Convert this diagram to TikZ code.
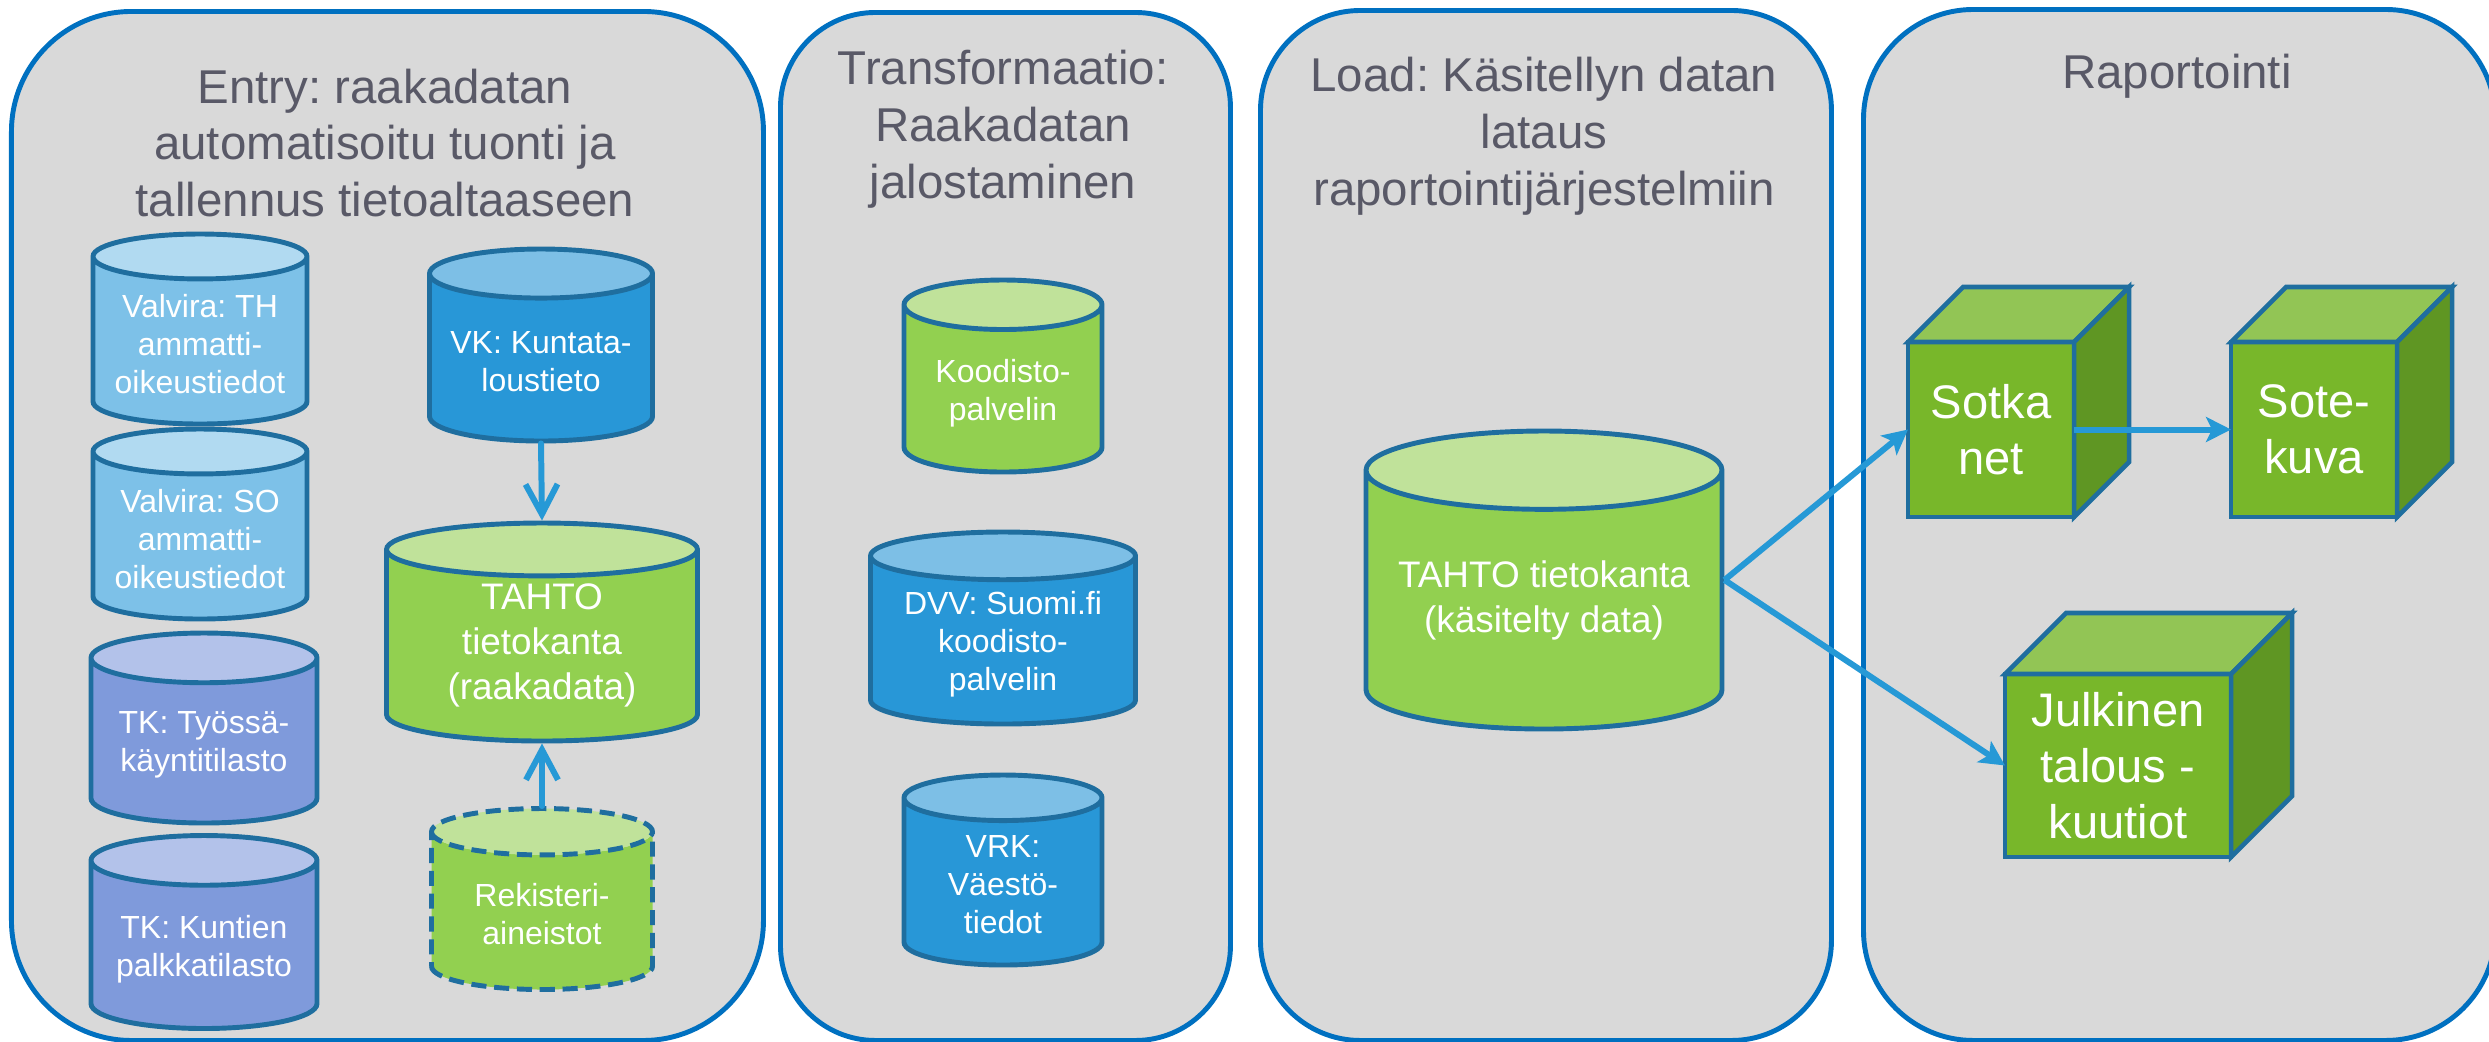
\documentclass[tikz,border=0pt]{standalone}
\usepackage{fontspec}
\setmainfont{Liberation Sans}
\frenchspacing
\usepackage{xcolor}
\usetikzlibrary{arrows.meta,shapes.geometric,calc}
\definecolor{frame}{HTML}{0070C0}
\definecolor{panelgray}{HTML}{D9D9D9}
\definecolor{titlegray}{HTML}{595967}
\definecolor{dbline}{HTML}{1F6E9F}
\definecolor{skybody}{HTML}{7DC1E8}
\definecolor{skytop}{HTML}{B1DAF1}
\definecolor{lilacbody}{HTML}{7F9ADB}
\definecolor{lilactop}{HTML}{B3C2EA}
\definecolor{seabody}{HTML}{2897D7}
\definecolor{seatop}{HTML}{7DBFE6}
\definecolor{leafbody}{HTML}{92D050}
\definecolor{leaftop}{HTML}{C0E29A}
\definecolor{cubefront}{HTML}{78B72A}
\definecolor{cubelid}{HTML}{92C555}
\definecolor{cubeside}{HTML}{5F9623}
\definecolor{arrowblue}{HTML}{2699D6}
\tikzset{
  >={Stealth[length=2.5mm,width=2.5mm,inset=0.6mm]},
  panel/.style={draw=frame,fill=panelgray,line width=1.4pt,rounded corners=1.1cm,anchor=north west,inner sep=0pt},
  paneltitle/.style={text=titlegray,font=\fontsize{13.5}{16.2}\selectfont,align=center},
  db/.style={cylinder,shape border rotate=90,draw=dbline,line width=1.4pt,cylinder uses custom fill,
    inner ysep=0pt,anchor=shape center},
  dbtext/.style={text=white,align=center,yshift=0.9mm,font=\fontsize{9.1}{10.8}\selectfont},
  bigdbtext/.style={dbtext,font=\fontsize{10.5}{12.8}\selectfont},
  skydb/.style={cylinder body fill=skybody,cylinder end fill=skytop},
  lilacdb/.style={cylinder body fill=lilacbody,cylinder end fill=lilactop},
  seadb/.style={cylinder body fill=seabody,cylinder end fill=seatop},
  leafdb/.style={cylinder body fill=leafbody,cylinder end fill=leaftop},
  cube/.style={draw=dbline,fill=cubefront,line width=1.3pt,text=white,align=center,inner sep=0pt,outer sep=0pt,
    font=\fontsize{13.4}{16}\selectfont},
  lid/.style={draw=dbline,fill=cubelid,line width=1.3pt},
  flank/.style={draw=dbline,fill=cubeside,line width=1.3pt},
  feed/.style={-{Straight Barb[length=3mm,width=3.2mm]},line width=1.7pt,color=arrowblue,line cap=round,line join=round},
  flow/.style={->,line width=1.7pt,color=arrowblue},
}
\begin{document}
\begin{tikzpicture}[x=1cm,y=1cm]
  \useasboundingbox (0,0) rectangle (24.89,-10.41);

  % the four stages
  \node[panel,rounded corners=1.2cm,minimum width=7.52cm,minimum height=10.29cm] (entryPanel) at (0.09,-0.09) {};
  \node[panel,rounded corners=0.95cm,minimum width=4.50cm,minimum height=10.28cm] (transPanel) at (7.78,-0.10) {};
  \node[panel,rounded corners=1.0cm,minimum width=5.71cm,minimum height=10.30cm] (loadPanel) at (12.58,-0.08) {};
  \node[panel,minimum width=6.32cm,minimum height=10.31cm] (reportPanel) at (18.61,-0.07) {};

  \node[paneltitle] (entryTitle) at (3.85,-1.43) {Entry: raakadatan\\automatisoitu tuonti ja\\tallennus tietoaltaaseen};
  \node[paneltitle] (transTitle) at (10.03,-1.29) {Transformaatio:\\Raakadatan\\jalostaminen};
  \node[paneltitle] (loadTitle) at (15.44,-1.36) {Load: Käsitellyn datan\\lataus\\raportointijärjestelmiin};
  \node[paneltitle] (reportTitle) at (21.77,-0.76) {Raportointi};

  % entry: sources
  \node[db,skydb,inner xsep=1.07cm,minimum height=1.90cm,aspect=0.21,
    label={[dbtext]center:{Valvira: TH\\ammatti-\\oikeustiedot}}] (valviraTH) at (2.00,-3.29) {};
  \node[db,skydb,inner xsep=1.07cm,minimum height=1.90cm,aspect=0.21,
    label={[dbtext]center:{Valvira: SO\\ammatti-\\oikeustiedot}}] (valviraSO) at (2.00,-5.24) {};
  \node[db,lilacdb,inner xsep=1.13cm,minimum height=1.90cm,aspect=0.22,
    label={[dbtext]center:{TK: Työssä-\\käyntitilasto}}] (tkTyo) at (2.04,-7.28) {};
  \node[db,lilacdb,inner xsep=1.13cm,minimum height=1.93cm,aspect=0.22,
    label={[dbtext]center:{TK: Kuntien\\palkkatilasto}}] (tkPalkka) at (2.04,-9.32) {};
  \node[db,seadb,inner xsep=1.115cm,minimum height=1.92cm,aspect=0.22,
    label={[dbtext]center:{VK: Kuntata-\\loustieto}}] (vkTalous) at (5.41,-3.45) {};
  \node[db,leafdb,inner xsep=1.555cm,minimum height=2.18cm,aspect=0.17,
    label={[bigdbtext,yshift=0.5mm]center:{TAHTO\\tietokanta\\(raakadata)}}] (tahtoRaw) at (5.42,-6.32) {};
  \node[db,leafdb,dashed,dash pattern=on 4.3pt off 2.2pt,inner xsep=1.105cm,minimum height=1.81cm,aspect=0.21,
    label={[dbtext]center:{Rekisteri-\\aineistot}}] (rekisteri) at (5.42,-8.99) {};

  % transformation
  \node[db,leafdb,inner xsep=0.99cm,minimum height=1.92cm,aspect=0.25,
    label={[dbtext]center:{Koodisto-\\palvelin}}] (koodisto) at (10.03,-3.76) {};
  \node[db,seadb,inner xsep=1.325cm,minimum height=1.92cm,aspect=0.18,
    label={[dbtext]center:{DVV: Suomi.fi\\koodisto-\\palvelin}}] (dvvKoodisto) at (10.03,-6.28) {};
  \node[db,seadb,inner xsep=0.99cm,minimum height=1.90cm,aspect=0.23,
    label={[dbtext]center:{VRK:\\Väestö-\\tiedot}}] (vrkVaesto) at (10.03,-8.70) {};

  % load
  \node[db,leafdb,inner xsep=1.78cm,minimum height=2.98cm,aspect=0.22,
    label={[bigdbtext,yshift=1.1mm]center:{TAHTO tietokanta\\(käsitelty data)}}] (tahtoLoad) at (15.44,-5.80) {};

  % reporting cubes
  \node[cube,minimum width=1.66cm,minimum height=1.75cm] (sotka) at (19.91,-4.295) {Sotka\\net};
  \node[cube,minimum width=1.66cm,minimum height=1.75cm] (sote) at (23.14,-4.295) {Sote-\\kuva};
  \node[cube,minimum width=2.26cm,minimum height=1.83cm] (julkinen) at (21.18,-7.655) {Julkinen\\talous -\\kuutiot};

  \filldraw[lid] (sotka.north west) -- ++(0.55,0.55) -- ($(sotka.north east)+(0.55,0.55)$) -- (sotka.north east) -- cycle;
  \filldraw[flank] (sotka.north east) -- ++(0.55,0.55) -- ($(sotka.south east)+(0.55,0.55)$) -- (sotka.south east) -- cycle;
  \filldraw[lid] (sote.north west) -- ++(0.55,0.55) -- ($(sote.north east)+(0.55,0.55)$) -- (sote.north east) -- cycle;
  \filldraw[flank] (sote.north east) -- ++(0.55,0.55) -- ($(sote.south east)+(0.55,0.55)$) -- (sote.south east) -- cycle;
  \filldraw[lid] (julkinen.north west) -- ++(0.61,0.61) -- ($(julkinen.north east)+(0.61,0.61)$) -- (julkinen.north east) -- cycle;
  \filldraw[flank] (julkinen.north east) -- ++(0.61,0.61) -- ($(julkinen.south east)+(0.61,0.61)$) -- (julkinen.south east) -- cycle;

  % connectors
  \draw[feed] (vkTalous.south) -- (tahtoRaw.north);
  \draw[feed] (rekisteri.north) -- (tahtoRaw.south);
  \draw[flow] (tahtoLoad.shape center -| tahtoLoad.east) -- (sotka.west);
  \draw[flow] (tahtoLoad.shape center -| tahtoLoad.east) -- (julkinen.west);
  \draw[flow] (sotka.east) -- (sote.west);
\end{tikzpicture}
\end{document}
